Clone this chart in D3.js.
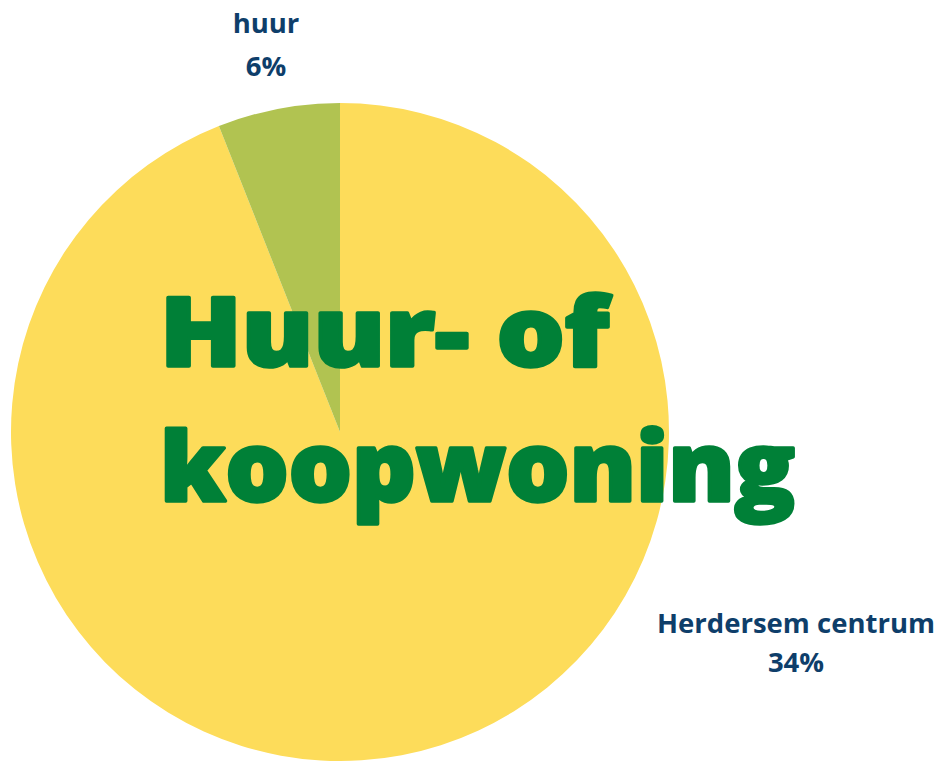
<!DOCTYPE html>
<html><head><meta charset="utf-8">
<script src="https://cdn.jsdelivr.net/npm/d3@7"></script>
<style>html,body{margin:0;padding:0;background:#fff;}svg{display:block;}</style>
</head><body>
<svg id="chart" width="943" height="764"></svg>
<script>
const categories = ["Herdersem centrum", "huur"];
const values = [94, 6];
const valueLabels = ["34%", "6%"];
const colors = ["#FDDC5A", "#B1C351"];
const titleLines = ["Huur- of", "koopwoning"];

const svg = d3.select("#chart");
const cx = 340, cy = 432, r = 329;
const data = categories.map((c, i) => ({cat: c, value: values[i], label: valueLabels[i], color: colors[i]}));
const pie = d3.pie().sort(null).value(d => d.value);
const arc = d3.arc().innerRadius(0).outerRadius(r);
const g = svg.append("g").attr("transform", `translate(${cx},${cy})`);
g.selectAll("path").data(pie(data)).join("path").attr("d", arc).attr("fill", d => d.data.color);

// labels
const labelPos = [{x: 796, y1: 633, y2: 672}, {x: 266, y1: 33, y2: 76}];
data.forEach((d, i) => {
  const p = labelPos[i];
  const t = svg.append("text").attr("text-anchor", "middle")
    .attr("font-family", "'Open Sans', sans-serif").attr("font-weight", 700)
    .attr("font-size", 27.5).attr("fill", "#0E3E6A");
  t.append("tspan").attr("x", p.x).attr("y", p.y1).text(d.cat);
  t.append("tspan").attr("x", p.x).attr("y", p.y2).text(d.label);
});

// title
const titlePos = [{y: 366, w: 449}, {y: 501, w: 635}];
titleLines.forEach((line, i) => {
  svg.append("text").attr("x", 160).attr("y", titlePos[i].y)
    .attr("font-family", "'Open Sans', sans-serif").attr("font-weight", 800)
    .attr("font-size", 95).attr("fill", "#008037")
    .attr("stroke", "#008037").attr("stroke-width", 3.5).attr("stroke-linejoin", "round")
    .attr("textLength", titlePos[i].w).attr("lengthAdjust", "spacingAndGlyphs")
    .text(line);
});
</script>
</body></html>
